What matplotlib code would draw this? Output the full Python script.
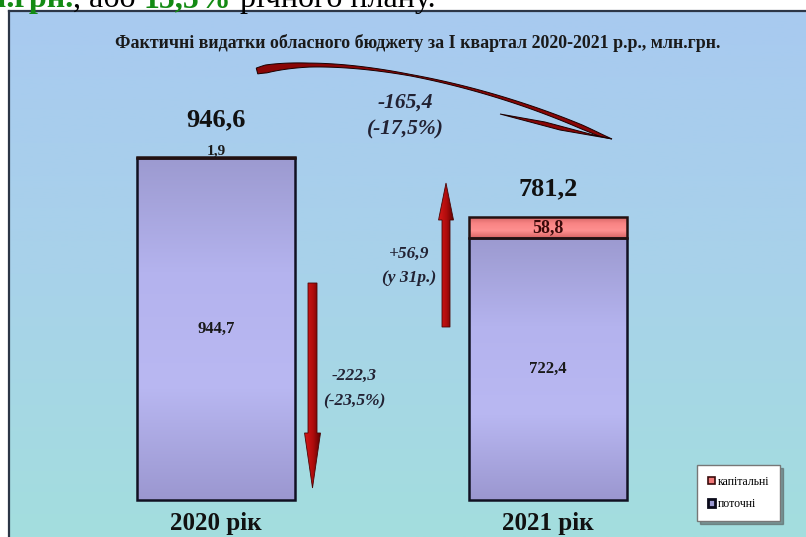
import matplotlib.pyplot as plt
import numpy as np
from matplotlib.patches import Patch, Polygon
from matplotlib.colors import LinearSegmentedColormap

plt.rcParams['font.family'] = ['Liberation Serif', 'DejaVu Serif']

years = ["2020 рік", "2021 рік"]
current = [944.7, 722.4]
capital = [1.9, 58.8]
totals = [946.6, 781.2]
current_labels = ["944,7", "722,4"]
capital_labels = ["1,9", "58,8"]
total_labels = ["946,6", "781,2"]
change_total = ["-165,4", "(-17,5%)"]
change_current = ["-222,3", "(-23,5%)"]
change_capital = ["+56,9", "(у 31р.)"]
legend_labels = ["капітальні", "поточні"]
title = "Фактичні видатки обласного бюджету за І квартал 2020-2021 р.р., млн.грн."
header = [("млн.грн.", "#138a13", "bold"), (", або ", "black", "normal"),
          ("15,5%", "#138a13", "bold"), (" річного плану.", "black", "normal")]

W, H = 806, 537
fig = plt.figure(figsize=(W / 100, H / 100), dpi=100)
fig.patch.set_facecolor("white")


def grad_fill(ax, patch, colors, horizontal=False, extent=None):
    cmap = LinearSegmentedColormap.from_list("g", colors)
    g = np.linspace(0, 1, 256)
    arr = g.reshape(1, -1) if horizontal else g.reshape(-1, 1)
    im = ax.imshow(arr, cmap=cmap, extent=extent, aspect="auto",
                   origin="lower", zorder=patch.get_zorder() - 0.1)
    im.set_clip_path(patch)
    return im


# header text, cut at the top of the picture (as in the source slide)
fig.canvas.draw()
rend = fig.canvas.get_renderer()
x = -52
for txt, col, wt in header:
    t = fig.text(x / W, 1 - 7 / H, txt, color=col, fontweight=wt, fontsize=23,
                 va="baseline", ha="left")
    x = t.get_window_extent(renderer=rend).x1

# main panel
ax = fig.add_axes([9 / W, 0, (W - 9) / W, (H - 11) / H])
ax.imshow(np.linspace(0, 1, 256).reshape(-1, 1),
          cmap=LinearSegmentedColormap.from_list("bg", ["#a3dede", "#a8d2ea", "#a8caf0"]),
          extent=[0, 1, 0, 1], transform=ax.transAxes, aspect="auto", origin="lower", zorder=0)

xs = np.arange(len(years))
w = 0.476
cur_bars = ax.bar(xs, current, width=w, color="none", edgecolor="#111122", linewidth=1.8, zorder=3)
cap_bars = ax.bar(xs, capital, bottom=current, width=w, color="none", edgecolor="#221111",
                  linewidth=1.8, zorder=3)
for b in cur_bars:
    grad_fill(ax, b, ["#9b97d0", "#b9b8f2", "#b4b3ee", "#9c9ad0"],
              extent=[b.get_x(), b.get_x() + b.get_width(), b.get_y(), b.get_y() + b.get_height()])
for b in cap_bars:
    grad_fill(ax, b, ["#d86464", "#ff9090", "#f88484", "#d06060"],
              extent=[b.get_x(), b.get_x() + b.get_width(), b.get_y(), b.get_y() + b.get_height()])

for i in range(len(years)):
    ax.text(xs[i], current[i] / 2, current_labels[i], ha="center", va="center",
            fontsize=12, fontweight="bold", color="#1a1a1a", zorder=5)
    if capital[i] < 10:
        ax.text(xs[i], totals[i] - 2, capital_labels[i], ha="center", va="bottom",
                fontsize=11, fontweight="bold", color="#1a1a1a", zorder=5)
        ax.text(xs[i], totals[i] + 102, total_labels[i], ha="center", va="center",
                fontsize=19, fontweight="bold", color="#111111", zorder=5)
    else:
        ax.text(xs[i], current[i] + capital[i] / 2, capital_labels[i], ha="center", va="center",
                fontsize=13, fontweight="bold", color="#3a0a0a", zorder=5)
        ax.text(xs[i], totals[i] + 77, total_labels[i], ha="center", va="center",
                fontsize=19, fontweight="bold", color="#111111", zorder=5)
    ax.text(xs[i], -64, years[i], ha="center", va="center", fontsize=18,
            fontweight="bold", color="#111111", zorder=5)

ax.text(0.5 + 0.013, 1 - 32 / (H - 11), title, transform=ax.transAxes, ha="center", va="center",
        fontsize=12.9, fontweight="bold", color="#1a1a1a")

ax.set_xlim(-207 / 332, (W - 9 - 207) / 332)
ax.set_ylim(-37 / 0.3624, (H - 11 - 37) / 0.3624)
ax.set_xticks([])
ax.set_yticks([])
for s in ["right", "bottom"]:
    ax.spines[s].set_visible(False)
for s in ["left", "top"]:
    ax.spines[s].set_color("#2c3646")
    ax.spines[s].set_linewidth(1.6)

# arrows and change notes, in pixel space
deco = fig.add_axes([0, 0, 1, 1], zorder=5)
deco.patch.set_alpha(0)
deco.axis("off")


def straight_arrow(xc, y_tail, y_tip, sw, hw, hl):
    s = 1 if y_tip > y_tail else -1
    yb = y_tip - s * hl
    pts = [(xc - sw / 2, y_tail), (xc + sw / 2, y_tail), (xc + sw / 2, yb), (xc + hw / 2, yb),
           (xc, y_tip), (xc - hw / 2, yb), (xc - sw / 2, yb)]
    p = Polygon(pts, closed=True, facecolor="none", edgecolor="#4a0505", linewidth=0.6, zorder=6)
    deco.add_patch(p)
    grad_fill(deco, p, ["#d41818", "#b00c0c", "#5a0202"], horizontal=True,
              extent=[xc - hw / 2, xc + hw / 2, max(y_tail, y_tip), min(y_tail, y_tip)])


straight_arrow(312.5, 283, 488, 9, 16, 55)
straight_arrow(446, 327, 183, 8, 15, 37)

# curved swoosh
P = np.array([[257, 71], [330, 52], [480, 80], [600, 135]], float)
tt = np.linspace(0, 1, 300)
B = (((1 - tt) ** 3)[:, None] * P[0] + (3 * (1 - tt) ** 2 * tt)[:, None] * P[1]
     + (3 * (1 - tt) * tt ** 2)[:, None] * P[2] + (tt ** 3)[:, None] * P[3])
d = np.gradient(B, axis=0)
nrm = np.stack([-d[:, 1], d[:, 0]], 1)
nrm /= np.linalg.norm(nrm, axis=1)[:, None]
wid = np.interp(tt, [0, 0.04, 0.2, 0.5, 0.8, 0.95, 1], [6, 8, 4, 1.5, 3, 4, 3])
up = B + nrm * wid[:, None] / 2
dn = B - nrm * wid[:, None] / 2
swoosh = np.vstack([up, [[612, 139]], dn[::-1]])
deco.add_patch(Polygon(swoosh, closed=True, facecolor="#8a0606", edgecolor="#1a0000",
                       linewidth=0.7, zorder=6))
deco.add_patch(Polygon([(500, 114), (545, 122), (590, 134), (612, 139), (560, 130)], closed=True,
                       facecolor="#8a0606", edgecolor="#1a0000", linewidth=0.7, zorder=6))

notes = [(change_total, 405, 103, 129, 15.5), (change_capital, 409, 254, 278, 12.5),
         (change_current, 354, 376, 401, 12.5)]
for lines, xc, y1, y2, fs in notes:
    deco.text(xc, y1, lines[0], ha="center", va="center", fontsize=fs, fontweight="bold",
              fontstyle="italic", color="#222233")
    deco.text(xc, y2, lines[1], ha="center", va="center", fontsize=fs, fontweight="bold",
              fontstyle="italic", color="#222233")

deco.set_xlim(0, W)
deco.set_ylim(H, 0)

handles = [Patch(facecolor="#f07878", edgecolor="#3a0c0c", linewidth=1.2),
           Patch(facecolor="#9a98d0", edgecolor="#0a0a1a", linewidth=2)]
leg = fig.legend(handles, legend_labels, loc="upper left", bbox_to_anchor=(697 / W, 1 - 465 / H),
                 fontsize=8.5, handlelength=0.6, handleheight=0.6, handletextpad=0.25,
                 borderpad=0.9, labelspacing=0.9, fancybox=False, framealpha=1,
                 edgecolor="#777777", shadow=True, borderaxespad=0)
leg.set_zorder(10)

fig.savefig("out.png", dpi=100)
